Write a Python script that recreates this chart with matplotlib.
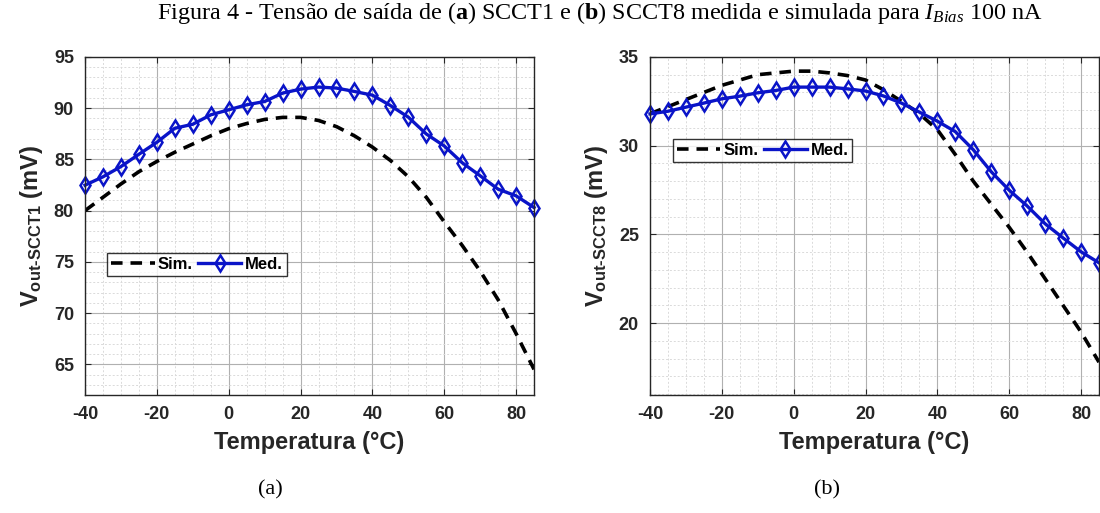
import matplotlib
matplotlib.use('Agg')
import matplotlib.pyplot as plt
from matplotlib.ticker import MultipleLocator

plt.rcParams['mathtext.fontset'] = 'custom'
plt.rcParams['mathtext.rm'] = 'Liberation Serif'
plt.rcParams['mathtext.it'] = 'Liberation Serif:italic'
plt.rcParams['mathtext.bf'] = 'Liberation Serif:bold'
plt.rcParams['mathtext.sf'] = 'Liberation Sans:bold'
plt.rcParams['axes.unicode_minus'] = False

temps = list(range(-40, 90, 5))

# (a) SCCT1
med_a = [82.48, 83.3, 84.3, 85.5, 86.67, 88.04, 88.43, 89.35, 89.84, 90.33,
         90.65, 91.47, 91.86, 92.06, 91.96, 91.63, 91.27, 90.26, 89.12, 87.48,
         86.31, 84.67, 83.4, 82.09, 81.44, 80.3]
sim_a = [80.0, 81.3, 82.6, 83.8, 84.8, 85.7, 86.5, 87.3, 88.0, 88.5,
         88.9, 89.1, 89.1, 88.8, 88.2, 87.3, 86.2, 84.9, 83.3, 81.3,
         78.9, 76.6, 74.1, 71.3, 68.0, 64.5]

# (b) SCCT8
med_b = [31.79, 31.94, 32.17, 32.4, 32.64, 32.79, 32.98, 33.11, 33.3, 33.3,
         33.3, 33.2, 33.08, 32.8, 32.4, 31.89, 31.38, 30.79, 29.77, 28.53,
         27.49, 26.6, 25.6, 24.8, 24.02, 23.4]
sim_b = [31.8, 32.2, 32.6, 33.0, 33.4, 33.7, 34.0, 34.1, 34.2, 34.2,
         34.1, 33.95, 33.7, 33.15, 32.5, 31.8, 30.9, 29.5, 28.0, 26.7,
         25.4, 24.0, 22.5, 21.0, 19.5, 17.8]

fig = plt.figure(figsize=(11, 5.13), dpi=100)

title = (r"Figura 4 - Tensão de saída de ($\mathbf{a}$) SCCT1 e ($\mathbf{b}$) "
         r"SCCT8 medida e simulada para $I_{Bias}$ 100 nA")
fig.text(0.545, 0.975, title, ha='center', va='center',
         family='Liberation Serif', fontsize=17.4)


def panel(rect, sim, med, ylim, ylabel, leg_anchor, caption, cap_x):
    ax = fig.add_axes(rect)
    ax.plot(temps, sim, color='black', linestyle=(0, (3.2, 2.2)), lw=2.6, label='Sim.')
    ax.plot(temps, med, color='#0a14c8', lw=2.4, marker='d', markersize=8,
            markerfacecolor='none', markeredgewidth=1.8, label='Med.', clip_on=False)
    ax.set_xlim(-40, 85)
    ax.set_ylim(*ylim)
    ax.xaxis.set_major_locator(MultipleLocator(20))
    ax.xaxis.set_minor_locator(MultipleLocator(5))
    ax.yaxis.set_major_locator(MultipleLocator(5))
    ax.yaxis.set_minor_locator(MultipleLocator(1))
    ax.grid(which='major', color='#b0b0b0', lw=0.8)
    ax.grid(which='minor', color='#dadada', lw=0.7, linestyle=(0, (2, 2)))
    ax.set_axisbelow(True)
    ax.tick_params(which='both', direction='in', top=True, right=True,
                   labelsize=13, pad=8, colors='#262626')
    ax.tick_params(which='major', length=4)
    ax.tick_params(which='minor', length=0)
    for lab in ax.get_xticklabels() + ax.get_yticklabels():
        lab.set_fontweight('bold')
        lab.set_family('Liberation Sans')
    for sp in ax.spines.values():
        sp.set_color('#262626')
        sp.set_linewidth(1.0)
    ax.set_xlabel('Temperatura (°C)', family='Liberation Sans', fontweight='bold',
                  fontsize=17, color='#262626', labelpad=6)
    ax.set_ylabel(ylabel, family='Liberation Sans', fontweight='bold',
                  fontsize=17, color='#262626', labelpad=6)
    leg = ax.legend(loc='center left', bbox_to_anchor=leg_anchor, ncol=2,
                    frameon=True, fancybox=False, edgecolor='black',
                    handlelength=2.6, handletextpad=0.2, columnspacing=0.3,
                    borderpad=0.25, borderaxespad=0,
                    prop={'family': 'Liberation Sans', 'weight': 'bold', 'size': 12})
    leg.get_frame().set_linewidth(1.0)
    fig.text(cap_x, 0.045, caption, ha='center', va='center',
             family='Liberation Serif', fontsize=16)
    return ax


panel([0.0773, 0.23, 0.4082, 0.659], sim_a, med_a, (62, 95),
      r"$\mathsf{V_{out‐SCCT1}}$ (mV)", (0.049, 0.386), '(a)', 0.246)
panel([0.5909, 0.23, 0.4082, 0.659], sim_b, med_b, (15.95, 35),
      r"$\mathsf{V_{out‐SCCT8}}$ (mV)", (0.051, 0.723), '(b)', 0.752)

fig.savefig('out.png', dpi=100)
